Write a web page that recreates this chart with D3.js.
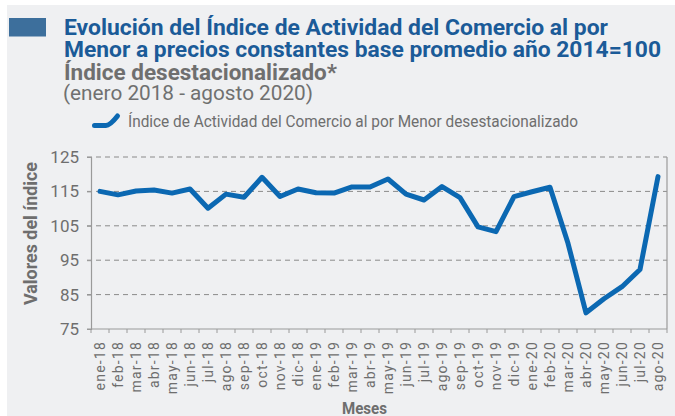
<!DOCTYPE html>
<html>
<head>
<meta charset="utf-8">
<script src="https://cdn.jsdelivr.net/npm/d3@7"></script>
<style>
  html, body { margin: 0; padding: 0; background: #fff; }
  svg { display: block; }
  text { font-family: Roboto, "Noto Sans", "DejaVu Sans", sans-serif; }
</style>
</head>
<body>
<div id="canvas"></div>
<script>
(function () {
    var months = ['ene-18','feb-18','mar-18','abr-18','may-18','jun-18','jul-18','ago-18','sep-18','oct-18','nov-18','dic-18',
                  'ene-19','feb-19','mar-19','abr-19','may-19','jun-19','jul-19','ago-19','sep-19','oct-19','nov-19','dic-19',
                  'ene-20','feb-20','mar-20','abr-20','may-20','jun-20','jul-20','ago-20'];
    var indexValues = [115.0, 114.0, 115.1, 115.4, 114.5, 115.7, 110.1, 114.2, 113.3, 119.1, 113.5, 115.7,
                       114.6, 114.5, 116.3, 116.3, 118.6, 114.2, 112.5, 116.4, 113.2, 104.7, 103.3, 113.5,
                       114.9, 116.2, 99.9, 79.7, 83.8, 87.3, 92.3, 119.3];
    var yTicks = [75, 85, 95, 105, 115, 125];
    var titleLines = ['Evolución del Índice de Actividad del Comercio al por', 'Menor a precios constantes base promedio año 2014=100'];
    var subtitle = 'Índice desestacionalizado*';
    var period = '(enero 2018 - agosto 2020)';
    var seriesName = 'Índice de Actividad del Comercio al por Menor desestacionalizado';

    var W = 675, H = 416;
    var margin = { top: 157, left: 91, right: 8, bottom: 87 };
    var width = W - margin.left - margin.right,
        height = H - margin.top - margin.bottom;
    var blue = '#0b68b2', gray = '#6e6e6e';

    var svg = d3.select('#canvas').append('svg')
        .attr('width', W).attr('height', H);

    svg.append('rect').attr('x', 7).attr('y', 5).attr('width', W - 7).attr('height', H - 5).attr('fill', '#eff0f2');
    svg.append('rect').attr('x', 9).attr('y', 18).attr('width', 37).attr('height', 18.5).attr('fill', '#3d6f9c');

    // squeeze text to the reference's condensed widths
    function fit(sel, len) {
        sel.attr('textLength', len).attr('lengthAdjust', 'spacingAndGlyphs');
    }

    var titleWidths = [544, 597];
    svg.selectAll('text.t').data(titleLines).enter().append('text')
        .attr('x', 64).attr('y', function (d, i) { return 35 + i * 22; })
        .attr('font-size', 22).attr('font-weight', 'bold').attr('fill', '#1b5b98')
        .attr('textLength', function (d, i) { return titleWidths[i]; }).attr('lengthAdjust', 'spacingAndGlyphs')
        .text(function (d) { return d; });
    svg.append('text').attr('x', 64).attr('y', 79.5).attr('font-size', 22).attr('font-weight', 'bold')
        .attr('fill', '#6f6f6f').text(subtitle).call(fit, 273);
    svg.append('text').attr('x', 63).attr('y', 100).attr('font-size', 20.5)
        .attr('fill', '#707070').text(period).call(fit, 250);

    // legend
    svg.append('path').attr('d', 'M94.5,125.5 L106,125.5 Q110,125.5 117.5,116')
        .attr('fill', 'none').attr('stroke', blue).attr('stroke-width', 5).attr('stroke-linecap', 'round');
    svg.append('text').attr('x', 128).attr('y', 127).attr('font-size', 16)
        .attr('fill', gray).text(seriesName).call(fit, 450);

    var x = d3.scaleBand().domain(months).range([0, width]);
    var y = d3.scaleLinear().domain([75, 125]).range([height, 0]);

    var g = svg.append('g').attr('transform', 'translate(' + margin.left + ',' + margin.top + ')');

    // grid
    g.selectAll('line.grid').data(yTicks.slice(1)).enter().append('line')
        .attr('x1', -4).attr('x2', width)
        .attr('y1', function (d) { return y(d); }).attr('y2', function (d) { return y(d); })
        .attr('stroke', '#8a8a8a').attr('stroke-dasharray', '5,4');
    g.append('line').attr('x1', width).attr('x2', width).attr('y1', 0).attr('y2', height)
        .attr('stroke', '#9a9a9a').attr('stroke-width', 1.2);

    // y axis
    var yAxis = g.append('g')
        .call(d3.axisLeft(y).tickValues(yTicks).tickSize(4).tickPadding(8));
    yAxis.select('.domain').attr('stroke', '#9a9a9a').attr('stroke-width', 1.2);
    yAxis.selectAll('line').attr('stroke', '#9a9a9a');
    yAxis.selectAll('text').attr('font-size', 17).attr('fill', gray).attr('font-family', null);

    // x axis: ticks on band edges
    var xAxis = g.append('g').attr('transform', 'translate(0,' + height + ')');
    xAxis.append('line').attr('x1', -4).attr('x2', width).attr('stroke', '#9a9a9a').attr('stroke-width', 1.2);
    xAxis.selectAll('line.tk').data(months.concat(['end'])).enter().append('line')
        .attr('x1', function (d, i) { return i * x.step(); })
        .attr('x2', function (d, i) { return i * x.step(); })
        .attr('y1', 0).attr('y2', 4).attr('stroke', '#9a9a9a');
    xAxis.selectAll('text').data(months).enter().append('text')
        .attr('transform', function (d) { return 'translate(' + (x(d) + x.bandwidth() / 2) + ',12) rotate(-90)'; })
        .attr('text-anchor', 'end').attr('dy', '0.35em')
        .attr('font-size', 14).attr('letter-spacing', 1.2).attr('fill', gray)
        .text(function (d) { return d; });

    // series line
    var line = d3.line()
        .x(function (d, i) { return x(months[i]) + x.bandwidth() / 2; })
        .y(function (d) { return y(d); });
    g.append('path').datum(indexValues)
        .attr('d', line).attr('fill', 'none').attr('stroke', blue)
        .attr('stroke-width', 5).attr('stroke-linejoin', 'round').attr('stroke-linecap', 'round');

    // axis titles
    svg.append('text')
        .attr('transform', 'translate(37,233.5) rotate(-90)').attr('text-anchor', 'middle')
        .attr('font-size', 19).attr('font-weight', 'bold').attr('fill', gray).text('Valores del índice')
        .call(fit, 143);
    svg.append('text')
        .attr('x', 364.5).attr('y', 413.5).attr('text-anchor', 'middle')
        .attr('font-size', 17).attr('font-weight', 'bold').attr('fill', gray).text('Meses')
        .call(fit, 45);
})();
</script>
</body>
</html>
